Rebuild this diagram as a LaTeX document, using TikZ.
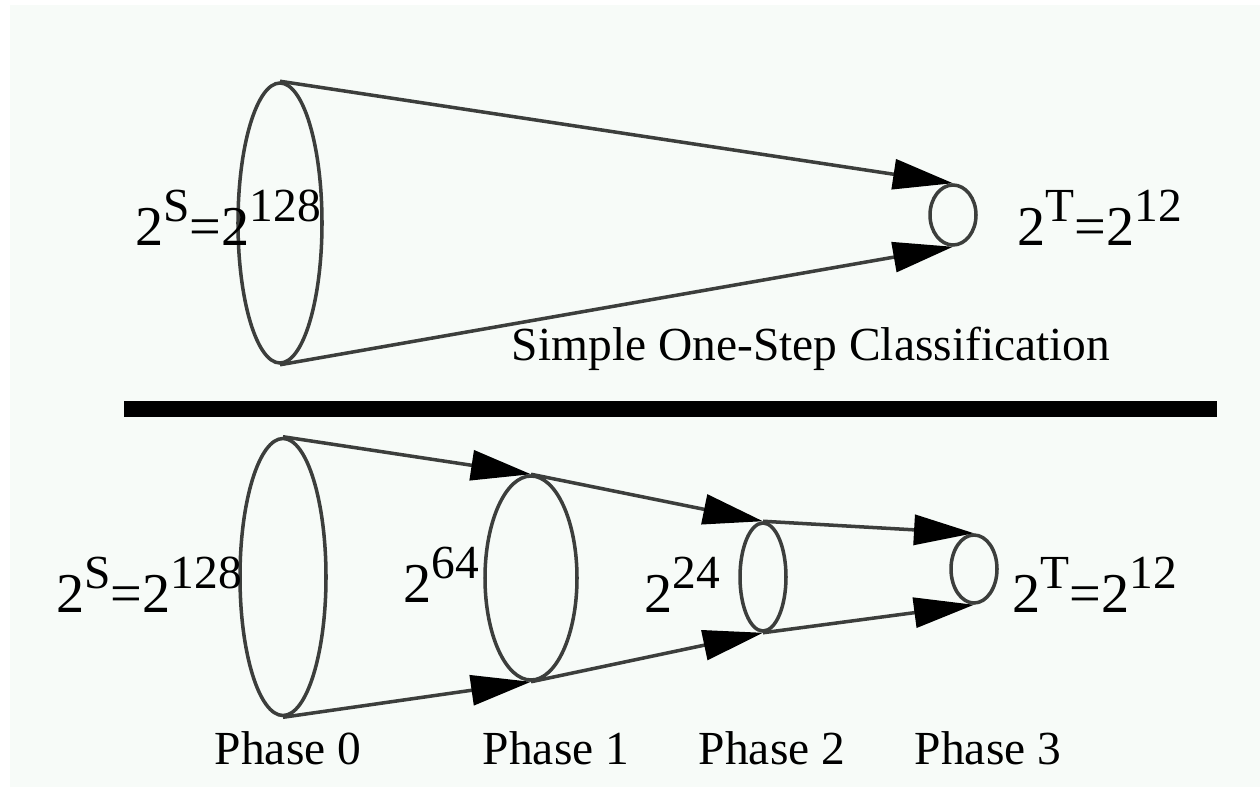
\documentclass[tikz,border=0pt]{standalone}
\usepackage{fontspec}
\setmainfont{Liberation Serif}
\usetikzlibrary{arrows.meta,positioning,shapes.geometric}

\definecolor{paper}{RGB}{247,251,248}
\definecolor{ink}{RGB}{60,62,60}

% power label: base with a raised exponent
\newcommand{\pw}[2]{#1\raisebox{6.8pt}{\fontsize{13.5}{15}\selectfont #2}}

\tikzset{
 set/.style={draw=ink,ellipse,inner sep=0pt,line width=1pt},
 flow/.style={draw=ink,line width=1pt,-{Triangle[length=6mm,width=3mm,color=black]}},
 size/.style={font=\fontsize{16}{18}\selectfont,inner sep=0pt},
 caption/.style={font=\fontsize{13.5}{16}\selectfont,inner sep=0pt,anchor=base},
}

\begin{document}
\begin{tikzpicture}[x=.1mm,y=-.1mm]
\useasboundingbox[fill=white] (0,0) rectangle (1260,787);
\fill[paper] (10,5) rectangle (1260,787);

% one-step classification
\node[set,minimum width=8.4mm,minimum height=28mm] (s0) at (280,223) {};
\node[set,minimum width=4.6mm,minimum height=6mm] (t0) at (953,215) {};
\draw[flow] (s0.north) -- (t0.north);
\draw[flow] (s0.south) -- (t0.south);
\node[size] (srcA) at (228,218) {\pw{2}{S}=\pw{2}{128}};
\node[size] (tgtA) at (1100,218) {\pw{2}{T}=\pw{2}{12}};
\node[caption] (title) at (811,360) {Simple One-Step Classification};

\draw[line width=1.6mm] (124,409) -- (1217,409);

% phased classification
\node[set,minimum width=8.6mm,minimum height=27.7mm] (p0) at (283,577) {};
\node[set,minimum width=9.2mm,minimum height=20.4mm] (p1) at (531,578) {};
\node[set,minimum width=4.6mm,minimum height=10.8mm] (p2) at (763,577) {};
\node[set,minimum width=4.6mm,minimum height=6.8mm] (p3) at (974,569) {};
\foreach \a/\b in {p0/p1,p1/p2,p2/p3}{
 \draw[flow] (\a.north) -- (\b.north);
 \draw[flow] (\a.south) -- (\b.south);
}
\node[size] (srcB) at (149,585) {\pw{2}{S}=\pw{2}{128}};
\node[size] (midB) at (441,575) {\pw{2}{64}};
\node[size] (midC) at (682,585) {\pw{2}{24}};
\node[size] (tgtB) at (1095,585) {\pw{2}{T}=\pw{2}{12}};
\foreach \n/\x in {0/288,1/556,2/772,3/988}{
 \node[caption] (ph\n) at (\x,764) {Phase \n};
}
\end{tikzpicture}
\end{document}
